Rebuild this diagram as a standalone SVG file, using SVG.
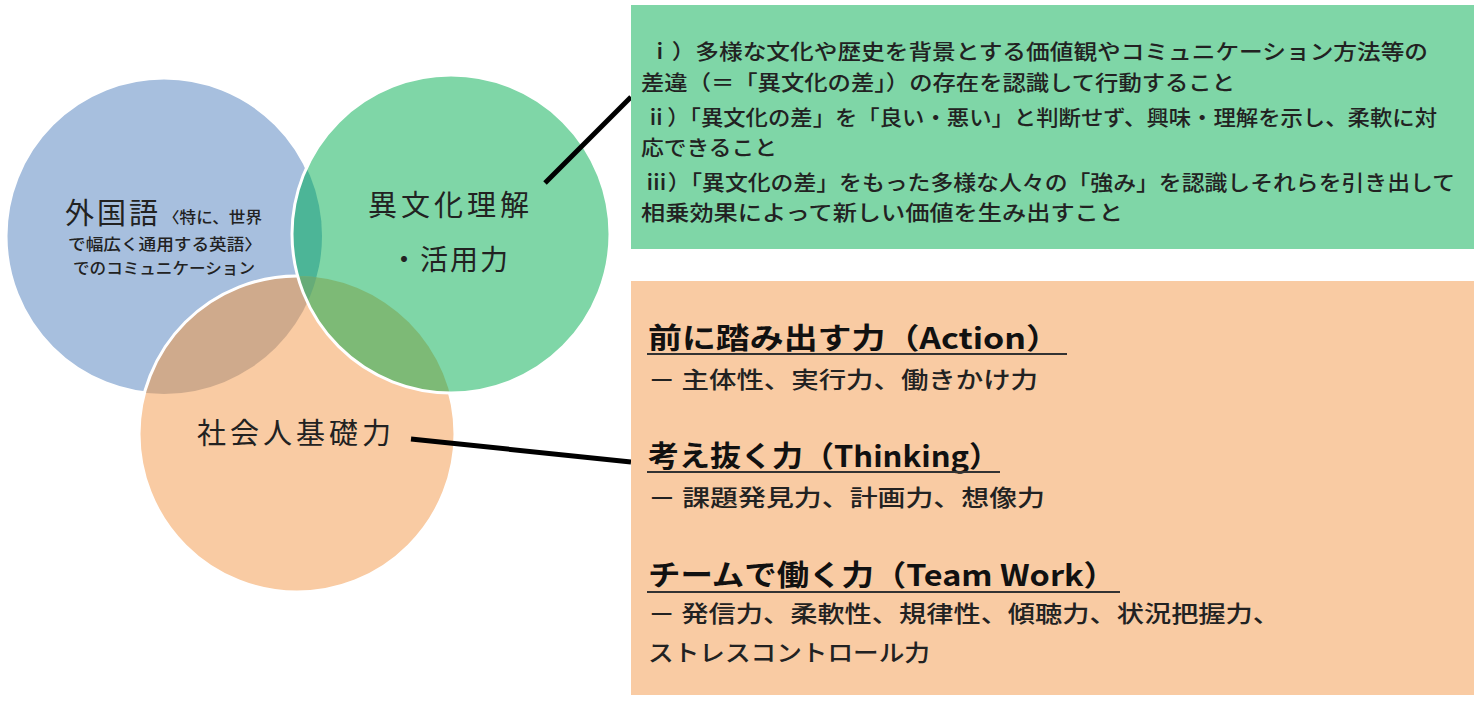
<svg xmlns="http://www.w3.org/2000/svg" width="1478" height="704" viewBox="0 0 1478 704">
<style>
.jp{font-family:"Noto Sans CJK JP","Noto Sans",sans-serif;fill:#222}
.box{font-size:21px;font-weight:500}
.hd{font-size:29px;font-weight:bold;fill:#111}
.sub{font-size:23px;font-weight:500}
.sm{font-size:15.5px;font-weight:500}
.ul{stroke:#333;stroke-width:2}
.conn{stroke:#000;stroke-width:5;stroke-linecap:butt;fill:none}
</style>
<defs>
<clipPath id="cB"><circle cx="164" cy="236" r="158"/></clipPath>
<clipPath id="cO"><circle cx="297" cy="434" r="158"/></clipPath>
</defs>
<rect width="1478" height="704" fill="#fff"/>
<g id="circle-language">
<circle cx="164" cy="236" r="158" fill="#A7BFDE" stroke="#fff" stroke-width="3"/>
</g>
<g id="circle-society">
<circle cx="297" cy="434" r="158" fill="#F9CBA3"/>
<circle cx="297" cy="434" r="158" fill="#CFAA8C" clip-path="url(#cB)"/>
<circle cx="297" cy="434" r="158" fill="none" stroke="#fff" stroke-width="3"/>
</g>
<g id="circle-culture">
<circle cx="451" cy="234" r="159" fill="#7FD6A7"/>
<circle cx="451" cy="234" r="159" fill="#4CB597" clip-path="url(#cB)"/>
<circle cx="451" cy="234" r="159" fill="#7DBA76" clip-path="url(#cO)"/>
<g clip-path="url(#cO)"><circle cx="451" cy="234" r="159" fill="#66AC78" clip-path="url(#cB)"/></g>
<circle cx="451" cy="234" r="159" fill="none" stroke="#fff" stroke-width="3"/>
</g>
<g id="label-language" class="jp">
<text x="65" y="224" font-size="29" letter-spacing="3">外国語</text>
<text class="sm" x="163" y="223" textLength="99" lengthAdjust="spacingAndGlyphs">〈特に、世界</text>
<text class="sm" x="68" y="250" textLength="194" lengthAdjust="spacingAndGlyphs">で幅広く通用する英語〉</text>
<text class="sm" x="73" y="274" textLength="182" lengthAdjust="spacingAndGlyphs">でのコミュニケーション</text>
</g>
<g id="label-culture" class="jp">
<text x="368" y="216" font-size="29" letter-spacing="4">異文化理解</text>
<text x="390" y="270" font-size="28" letter-spacing="2">・活用力</text>
</g>
<g id="label-society" class="jp">
<text x="197" y="444" font-size="29" letter-spacing="4">社会人基礎力</text>
</g>
<g id="connectors">
<line class="conn" x1="545" y1="183" x2="631" y2="97"/>
<line class="conn" x1="411" y1="439" x2="631" y2="462"/>
</g>
<g id="box-culture">
<rect x="631" y="5" width="843" height="244" fill="#7FD6A7"/>
<g class="jp box">
<text x="648" y="59" textLength="780" lengthAdjust="spacingAndGlyphs">ⅰ）多様な文化や歴史を背景とする価値観やコミュニケーション方法等の</text>
<text x="641" y="90" textLength="594" lengthAdjust="spacingAndGlyphs">差違（＝「異文化の差」）の存在を認識して行動すること</text>
<text x="645" y="125" textLength="792" lengthAdjust="spacingAndGlyphs">ⅱ）「異文化の差」を「良い・悪い」と判断せず、興味・理解を示し、柔軟に対</text>
<text x="641" y="155" textLength="136" lengthAdjust="spacingAndGlyphs">応できること</text>
<text x="645" y="190" textLength="810" lengthAdjust="spacingAndGlyphs">ⅲ）「異文化の差」をもった多様な人々の「強み」を認識しそれらを引き出して</text>
<text x="641" y="220" textLength="482" lengthAdjust="spacingAndGlyphs">相乗効果によって新しい価値を生み出すこと</text>
</g>
</g>
<g id="box-society">
<rect x="631" y="281" width="843" height="414" fill="#F9CBA3"/>
<g class="jp">
<text class="hd" x="648" y="349" textLength="412" lengthAdjust="spacingAndGlyphs">前に踏み出す力（Action）</text>
<line class="ul" x1="647" y1="354" x2="1067" y2="354"/>
<text class="sub" x="648" y="388" textLength="390" lengthAdjust="spacingAndGlyphs">－ 主体性、実行力、働きかけ力</text>
<text class="hd" x="648" y="467" textLength="352" lengthAdjust="spacingAndGlyphs">考え抜く力（Thinking）</text>
<line class="ul" x1="647" y1="472" x2="1000" y2="472"/>
<text class="sub" x="648" y="506" textLength="397" lengthAdjust="spacingAndGlyphs">－ 課題発見力、計画力、想像力</text>
<text class="hd" x="648" y="586" textLength="468" lengthAdjust="spacingAndGlyphs">チームで働く力（Team Work）</text>
<line class="ul" x1="647" y1="592" x2="1120" y2="592"/>
<text class="sub" x="648" y="622" textLength="632" lengthAdjust="spacingAndGlyphs">－ 発信力、柔軟性、規律性、傾聴力、状況把握力、</text>
<text class="sub" x="648" y="661" textLength="282" lengthAdjust="spacingAndGlyphs">ストレスコントロール力</text>
</g>
</g>
</svg>
